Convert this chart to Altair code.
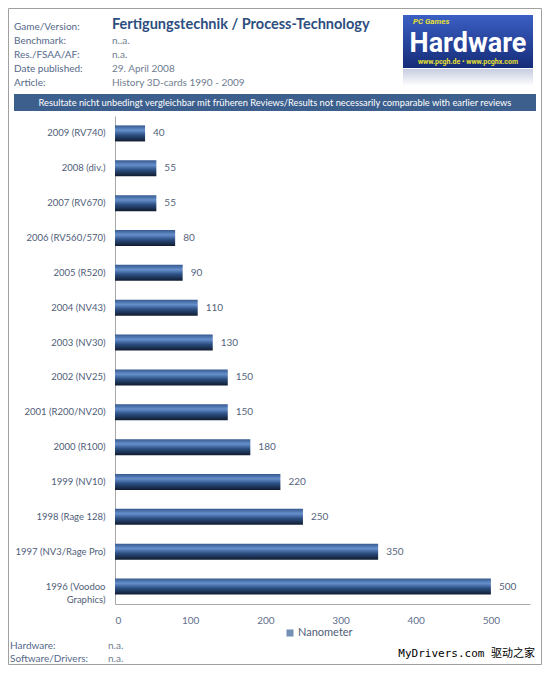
import altair as alt
import pandas as pd

categories = ["2009 (RV740)", "2008 (div.)", "2007 (RV670)", "2006 (RV560/570)",
              "2005 (R520)", "2004 (NV43)", "2003 (NV30)", "2002 (NV25)",
              "2001 (R200/NV20)", "2000 (R100)", "1999 (NV10)", "1998 (Rage 128)",
              "1997 (NV3/Rage Pro)", "1996 (Voodoo Graphics)"]
values = [40, 55, 55, 80, 90, 110, 130, 150, 150, 180, 220, 250, 350, 500]
x_ticks = [0, 100, 200, 300, 400, 500]
series_name = "Nanometer"

header_labels = ["Game/Version:", "Benchmark:", "Res./FSAA/AF:", "Date published:", "Article:"]
header_values = ["n..a.", "n.a.", "29. April 2008", "History 3D-cards 1990 - 2009"]
title = "Fertigungstechnik / Process-Technology"
banner = "Resultate nicht unbedingt  vergleichbar mit früheren Reviews/Results not necessarily comparable with earlier reviews"
footer_labels = ["Hardware:", "Software/Drivers:"]
footer_values = ["n.a.", "n.a."]
watermark = "MyDrivers.com 驱动之家"

df = pd.DataFrame({"category": categories, "value": values})

FONT = "Lato"
LBL = "#55698a"
VAL = "#6f7d90"

bar_grad = alt.Gradient(
    gradient="linear", x1=0, y1=0, x2=0, y2=1,
    stops=[alt.GradientStop(offset=0, color="#36598f"),
           alt.GradientStop(offset=0.3, color="#6690cc"),
           alt.GradientStop(offset=0.6, color="#2c4f82"),
           alt.GradientStop(offset=1, color="#101b2e")])

label_expr = ("datum.value == '1996 (Voodoo Graphics)' ? "
              "['1996 (Voodoo', 'Graphics)'] : datum.value")

base = alt.Chart(df)
bars = base.mark_bar(fill=bar_grad).encode(
    y=alt.Y("category:N", sort=categories,
            scale=alt.Scale(paddingInner=0.54, paddingOuter=0.27),
            axis=alt.Axis(title=None, ticks=False, domainColor="#a8a8a8",
                          labelColor="#4f5d78", labelFont=FONT, labelFontSize=9.5,
                          labelPadding=10, labelExpr=label_expr, labelLineHeight=13)),
    x=alt.X("value:Q", scale=alt.Scale(domain=[0, 552], nice=False),
            axis=alt.Axis(values=x_ticks, title=None, ticks=False, grid=False,
                          domainColor="#a8a8a8", labelColor="#5f6f8c",
                          labelFont=FONT, labelFontSize=10, labelPadding=11)),
)
vlabels = base.mark_text(align="left", baseline="middle", dx=8, font=FONT,
                         fontSize=10, color="#55647d").encode(
    y=alt.Y("category:N", sort=categories),
    x="value:Q",
    text="value:Q",
)

one = alt.Data(values=[{"a": 1}])


def txt(s, x, y, size=10, color=LBL, weight="normal", font=FONT, align="left",
        style="normal"):
    return alt.Chart(one).mark_text(align=align, baseline="middle", font=font,
                                    fontSize=size, color=color, fontWeight=weight,
                                    fontStyle=style).encode(
        x=alt.value(x), y=alt.value(y), text=alt.value(s))


def box(x1, x2, y1, y2, **kw):
    return alt.Chart(one).mark_rect(**kw).encode(
        x=alt.value(x1), x2=alt.value(x2), y=alt.value(y1), y2=alt.value(y2))


layers = []
# outer border
layers.append(box(-106.5, 426.5, -107.5, 548.5, fill="white", fillOpacity=0,
                  stroke="#a0a0a0", strokeWidth=1))
# header
hy = [-89, -75, -61, -47, -33]
for lab, yy in zip(header_labels, hy):
    layers.append(txt(lab, -101, yy))
layers.append(txt(title, -3, -91, size=14.5, color="#2d4e7e", weight="bold"))
for v, yy in zip(header_values, hy[1:]):
    layers.append(txt(v, -3, yy, color=VAL))

# logo
logo_grad = alt.Gradient(
    gradient="linear", x1=0, y1=0, x2=0, y2=1,
    stops=[alt.GradientStop(offset=0, color="#3b5fc4"),
           alt.GradientStop(offset=1, color="#152c78")])
refl_grad = alt.Gradient(
    gradient="linear", x1=0, y1=0, x2=0, y2=1,
    stops=[alt.GradientStop(offset=0, color="#c6cde0"),
           alt.GradientStop(offset=1, color="#ffffff")])
layers.append(box(288, 418, -47, -30, fill=refl_grad))
layers.append(box(288, 418, -101, -48, fill=logo_grad))
layers.append(txt("PC Games", 298, -94, size=8, color="#e8e030", weight="bold",
                  style="italic", font="Roboto"))
layers.append(txt("Hardware", 353, -72, size=27, color="white", weight="bold",
                  font="Roboto", align="center"))
layers.append(txt("www.pcgh.de • www.pcghx.com", 353, -54, size=7,
                  color="#e8e030", weight="bold", font="Roboto", align="center"))

# banner
layers.append(box(-101, 421, -22, -5, fill="#3d5f8e"))
layers.append(txt(banner, 160, -13.5, size=9.3, color="white", align="center"))

# legend
layers.append(alt.Chart(one).mark_square(size=50, color="#3b6198").encode(
    x=alt.value(175), y=alt.value(517)))
layers.append(txt(series_name, 183, 517, size=11, color="#4f5d78"))

# footer
fy = [530, 543]
for lab, v, yy in zip(footer_labels, footer_values, fy):
    layers.append(txt(lab, -105, yy, color=LBL))
    layers.append(txt(v, -7, yy, color=VAL))
layers.append(txt(watermark, 420, 538, size=11, color="black",
                  font="DejaVu Sans Mono, Noto Sans CJK SC", align="right"))

chart = alt.layer(bars, vlabels, *layers).properties(
    width=415, height=488,
    autosize=alt.AutoSizeParams(type="none"),
    padding={"left": 107, "top": 108, "right": 12, "bottom": 61},
    background="white",
).configure_view(stroke=None)

chart.save("out.html", embed_options={"renderer": "svg", "actions": False})
